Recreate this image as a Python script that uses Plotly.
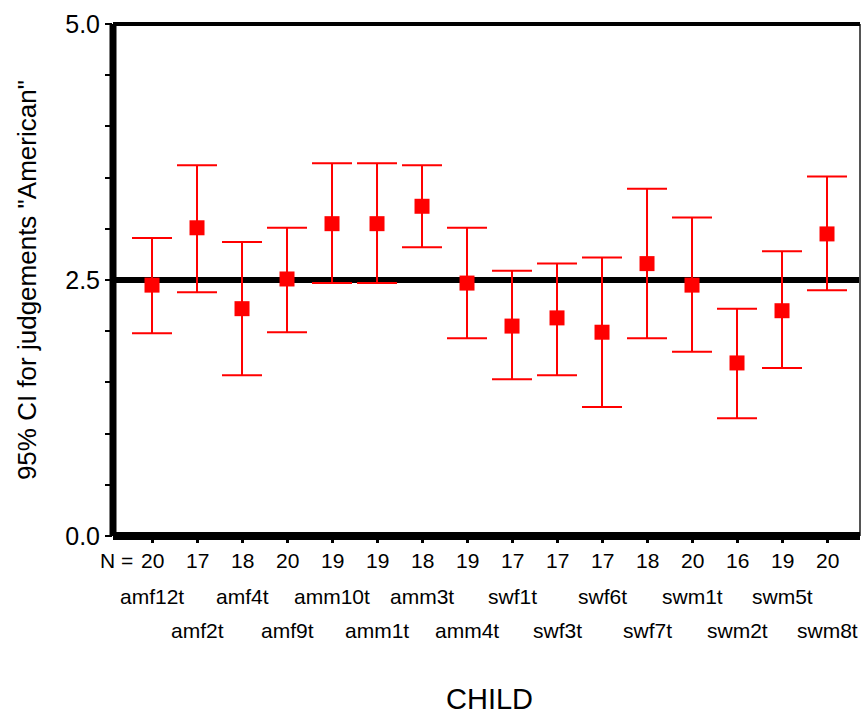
import plotly.graph_objects as go

categories = ["amf12t", "amf2t", "amf4t", "amf9t", "amm10t", "amm1t", "amm3t", "amm4t",
              "swf1t", "swf3t", "swf6t", "swf7t", "swm1t", "swm2t", "swm5t", "swm8t"]
n_values = [20, 17, 18, 20, 19, 19, 18, 19, 17, 17, 17, 18, 20, 16, 19, 20]
means = [2.45, 3.01, 2.22, 2.51, 3.05, 3.05, 3.22, 2.47,
         2.05, 2.13, 1.99, 2.66, 2.45, 1.69, 2.20, 2.95]
ci_upper = [2.91, 3.62, 2.87, 3.01, 3.64, 3.64, 3.62, 3.01,
            2.59, 2.66, 2.72, 3.39, 3.11, 2.22, 2.78, 3.51]
ci_lower = [1.98, 2.38, 1.57, 1.99, 2.47, 2.47, 2.82, 1.93,
            1.53, 1.57, 1.26, 1.93, 1.80, 1.15, 1.64, 2.40]
y_tick_vals = [0.0, 2.5, 5.0]
y_tick_text = ["0.0", "2.5", "5.0"]
reference_value = 2.5

x = list(range(len(categories)))
err_plus = [u - m for u, m in zip(ci_upper, means)]
err_minus = [m - l for m, l in zip(means, ci_lower)]

FONT = "Arial, Liberation Sans, sans-serif"
RED = "#ff0000"

fig = go.Figure()
fig.add_trace(go.Scatter(
    x=x, y=means, mode="markers",
    marker=dict(symbol="square", size=15, color=RED, line=dict(width=0)),
    error_y=dict(type="data", symmetric=False, array=err_plus, arrayminus=err_minus,
                 color=RED, thickness=2, width=20),
    showlegend=False, hoverinfo="skip",
))

shapes = [
    dict(type="line", xref="paper", yref="y", x0=0, x1=1, y0=reference_value, y1=reference_value,
         line=dict(color="black", width=6), layer="below"),
    dict(type="line", xref="paper", yref="paper", x0=1, x1=1, y0=0, y1=1,
         line=dict(color="#555555", width=2), layer="above"),
    dict(type="line", xref="paper", yref="paper", x0=0, x1=1, y0=1, y1=1,
         line=dict(color="black", width=4), layer="above"),
    dict(type="line", xref="paper", yref="paper", x0=0, x1=1, y0=0, y1=0,
         line=dict(color="black", width=8), layer="above"),
    dict(type="line", xref="paper", yref="paper", x0=0, x1=0, y0=0, y1=1,
         line=dict(color="black", width=7), layer="above"),
]

annotations = []
for i, n in enumerate(n_values):
    annotations.append(dict(x=i, y=-0.047, xref="x", yref="paper", text=str(n),
                            showarrow=False, xanchor="center", yanchor="middle",
                            font=dict(family=FONT, size=21, color="black")))
annotations.append(dict(x=0, y=-0.047, xref="x", yref="paper", text="N =",
                        showarrow=False, xanchor="right", yanchor="middle", xshift=-17,
                        font=dict(family=FONT, size=21, color="black")))
for i, c in enumerate(categories):
    annotations.append(dict(x=i, y=(-0.119 if i % 2 == 0 else -0.184), xref="x", yref="paper",
                            text=c, showarrow=False, xanchor="center", yanchor="middle",
                            font=dict(family=FONT, size=21, color="black")))
annotations.append(dict(x=0.504, y=-0.318, xref="paper", yref="paper", text="CHILD",
                        showarrow=False, xanchor="center", yanchor="middle",
                        font=dict(family=FONT, size=29, color="black")))
annotations.append(dict(x=-0.115, y=0.5, xref="paper", yref="paper",
                        text='95% CI for judgements "American"', textangle=-90,
                        showarrow=False, xanchor="center", yanchor="middle",
                        font=dict(family=FONT, size=26, color="black")))

fig.update_layout(
    width=861, height=714,
    margin=dict(l=113, r=1, t=24, b=178, pad=0),
    paper_bgcolor="white", plot_bgcolor="white",
    font=dict(family=FONT, color="black"),
    shapes=shapes, annotations=annotations,
    xaxis=dict(range=[-0.867, 15.733], tickvals=x, ticktext=[""] * len(x),
               showticklabels=False, ticks="outside", ticklen=6, tickwidth=2.5,
               tickcolor="black", showgrid=False, zeroline=False, showline=False),
    yaxis=dict(range=[0, 5], tickvals=y_tick_vals, ticktext=y_tick_text,
               ticks="outside", ticklen=7, tickwidth=2, tickcolor="black",
               minor=dict(dtick=0.5, ticks="outside", ticklen=7, tickwidth=2, tickcolor="black"),
               tickfont=dict(family=FONT, size=25, color="black"),
               showgrid=False, zeroline=False, showline=False),
)

fig.write_html("out.html", config={"displayModeBar": False},
               post_script="document.body.style.margin='0px';document.body.style.padding='0px';")
